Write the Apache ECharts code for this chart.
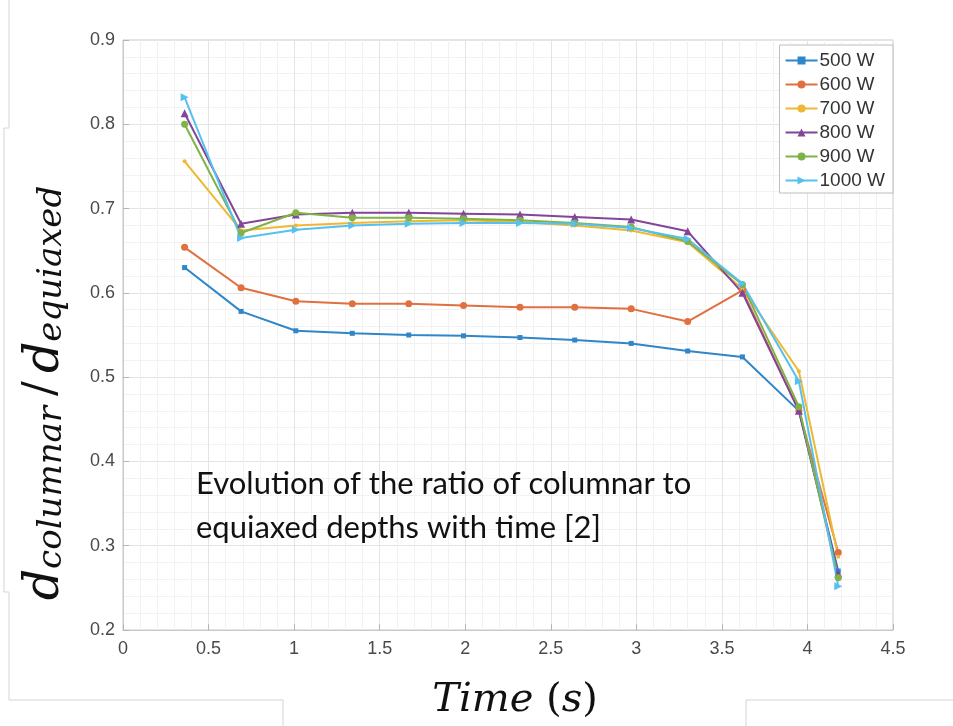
<!DOCTYPE html>
<html>
<head>
<meta charset="utf-8">
<script src="https://cdn.jsdelivr.net/npm/echarts@6/dist/echarts.min.js"></script>
<style>
  html, body { margin: 0; padding: 0; background: #ffffff; }
  #chart { width: 953px; height: 726px; }
</style>
</head>
<body>
<div id="chart"></div>
<script>
// Sampling times (s), shared by every power level
const times = [0.36, 0.69, 1.01, 1.34, 1.67, 1.99, 2.32, 2.64, 2.97, 3.30, 3.62, 3.95, 4.18];

// Ratio d_columnar / d_equiaxed for each laser power
const powerLabels = ['500 W', '600 W', '700 W', '800 W', '900 W', '1000 W'];
const ratio500  = [0.630, 0.578, 0.555, 0.552, 0.550, 0.549, 0.547, 0.544, 0.540, 0.531, 0.524, 0.460, 0.270];
const ratio600  = [0.654, 0.606, 0.590, 0.587, 0.587, 0.585, 0.583, 0.583, 0.581, 0.566, 0.603, 0.460, 0.292];
const ratio700  = [0.756, 0.674, 0.680, 0.683, 0.685, 0.686, 0.684, 0.680, 0.674, 0.660, 0.605, 0.507, 0.287];
const ratio800  = [0.813, 0.682, 0.693, 0.695, 0.695, 0.694, 0.693, 0.690, 0.687, 0.673, 0.600, 0.460, 0.267];
const ratio900  = [0.800, 0.671, 0.695, 0.689, 0.689, 0.688, 0.686, 0.683, 0.678, 0.661, 0.610, 0.465, 0.262];
const ratio1000 = [0.832, 0.665, 0.675, 0.680, 0.682, 0.683, 0.683, 0.682, 0.677, 0.664, 0.611, 0.495, 0.252];

// Axis ranges and tick spacing
const xTicks = { min: 0, max: 4.5, step: 0.5 };
const yTicks = { min: 0.2, max: 0.9, step: 0.1 };

const noteLines = ['Evolution of the ratio of columnar to', 'equiaxed depths with time [2]'];

const palette = ['#2f86c8', '#e0703f', '#efb832', '#84449a', '#7fb347', '#56c1ee'];
const markers = [
  { symbol: 'rect', size: 5, rotate: 0 },
  { symbol: 'circle', size: 7, rotate: 0 },
  { symbol: 'circle', size: 4, rotate: 0 },
  { symbol: 'triangle', size: 8, rotate: 0 },
  { symbol: 'circle', size: 7, rotate: 0 },
  { symbol: 'triangle', size: 8, rotate: -90 }
];
const allRatios = [ratio500, ratio600, ratio700, ratio800, ratio900, ratio1000];

const series = allRatios.map((vals, i) => ({
  name: powerLabels[i],
  type: 'line',
  data: times.map((t, k) => [t, vals[k]]),
  symbol: markers[i].symbol,
  symbolSize: markers[i].size,
  symbolRotate: markers[i].rotate,
  showSymbol: true,
  lineStyle: { width: 2, color: palette[i] },
  itemStyle: { color: palette[i] },
  emphasis: { disabled: true },
  animation: false
}));

const chart = echarts.init(document.getElementById('chart'), null, { renderer: 'canvas' });

const tickFont = { fontFamily: 'Liberation Sans, Arial, sans-serif', fontSize: 18, color: '#4a4a4a' };

chart.setOption({
  backgroundColor: '#ffffff',
  animation: false,
  // Caption placed inside the plotting area
  title: {
    text: noteLines.join('\n'),
    left: 191,
    top: 457,
    padding: 5,
    textStyle: { fontFamily: 'Lato', fontSize: 31, lineHeight: 44, fontWeight: 'normal', color: '#111111' }
  },
  grid: {
    left: 123, right: 60, top: 40, bottom: 96,
    show: true, borderColor: '#c9c9c9', borderWidth: 1, backgroundColor: 'transparent'
  },
  legend: {
    data: powerLabels,
    orient: 'vertical',
    right: 60,
    top: 45,
    itemWidth: 32,
    itemHeight: 10,
    itemGap: 5,
    padding: [6, 8, 3, 5],
    backgroundColor: '#ffffff',
    borderColor: '#bdbdbd',
    borderWidth: 1,
    borderRadius: 0,
    textStyle: { fontFamily: 'Liberation Sans, Arial, sans-serif', fontSize: 19, color: '#333333', padding: [0, 0, 0, -3] }
  },
  xAxis: {
    type: 'value',
    min: xTicks.min, max: xTicks.max, interval: xTicks.step,
    axisLine: { show: true, lineStyle: { color: '#c9c9c9' } },
    axisTick: { show: true, inside: true, length: 6, lineStyle: { color: '#b5b5b5' } },
    axisLabel: Object.assign({ margin: 10 }, tickFont),
    splitLine: { show: true, lineStyle: { color: '#e4e4e4', width: 1 } },
    minorTick: { show: false, splitNumber: 5 },
    minorSplitLine: { show: true, lineStyle: { color: '#f2f2f2', width: 1 } }
  },
  yAxis: {
    type: 'value',
    min: yTicks.min, max: yTicks.max, interval: yTicks.step,
    axisLine: { show: true, lineStyle: { color: '#c9c9c9' } },
    axisTick: { show: true, inside: true, length: 6, lineStyle: { color: '#b5b5b5' } },
    axisLabel: Object.assign({ margin: 8, formatter: v => v.toFixed(1) }, tickFont),
    splitLine: { show: true, lineStyle: { color: '#e4e4e4', width: 1 } },
    minorTick: { show: false, splitNumber: 5 },
    minorSplitLine: { show: true, lineStyle: { color: '#f2f2f2', width: 1 } }
  },
  series: series,
  graphic: [
    // Page frame lines around the figure
    { type: 'polyline', silent: true, shape: { points: [[9, 0], [9, 128], [4, 128], [4, 592], [9, 592], [9, 700], [283, 700], [283, 726]] },
      style: { stroke: '#d4d4d4', lineWidth: 1, fill: null } },
    { type: 'polyline', silent: true, shape: { points: [[746, 726], [746, 700], [953, 700]] },
      style: { stroke: '#d4d4d4', lineWidth: 1, fill: null } },
    // Y axis title: d_columnar / d_equiaxed
    {
      type: 'text', silent: true,
      x: 45, y: 393, rotation: Math.PI / 2,
      style: {
        text: '{d|d}{s|columnar}{sl|/}{d|d}{s|equiaxed}',
        align: 'center', verticalAlign: 'middle',
        fill: '#111111',
        rich: {
          d:  { fontFamily: 'DejaVu Serif', fontStyle: 'italic', fontSize: 49, lineHeight: 49, verticalAlign: 'top', fill: '#111111' },
          s:  { fontFamily: 'DejaVu Serif', fontStyle: 'italic', fontSize: 34, lineHeight: 26, verticalAlign: 'bottom', fill: '#111111' },
          sl: { fontFamily: 'DejaVu Serif', fontSize: 44, lineHeight: 49, verticalAlign: 'top', fill: '#111111', padding: [0, 8, 0, 10] }
        }
      }
    },
    // X axis title
    {
      type: 'text', silent: true,
      x: 515, y: 701,
      style: {
        text: '{i|Time }{u|(}{i|s}{u|)}',
        align: 'center', verticalAlign: 'middle', fill: '#111111',
        rich: {
          i: { fontFamily: 'DejaVu Serif', fontStyle: 'italic', fontSize: 40, fill: '#111111' },
          u: { fontFamily: 'DejaVu Serif', fontSize: 40, fill: '#111111' }
        }
      }
    }
  ]
});
</script>
</body>
</html>
